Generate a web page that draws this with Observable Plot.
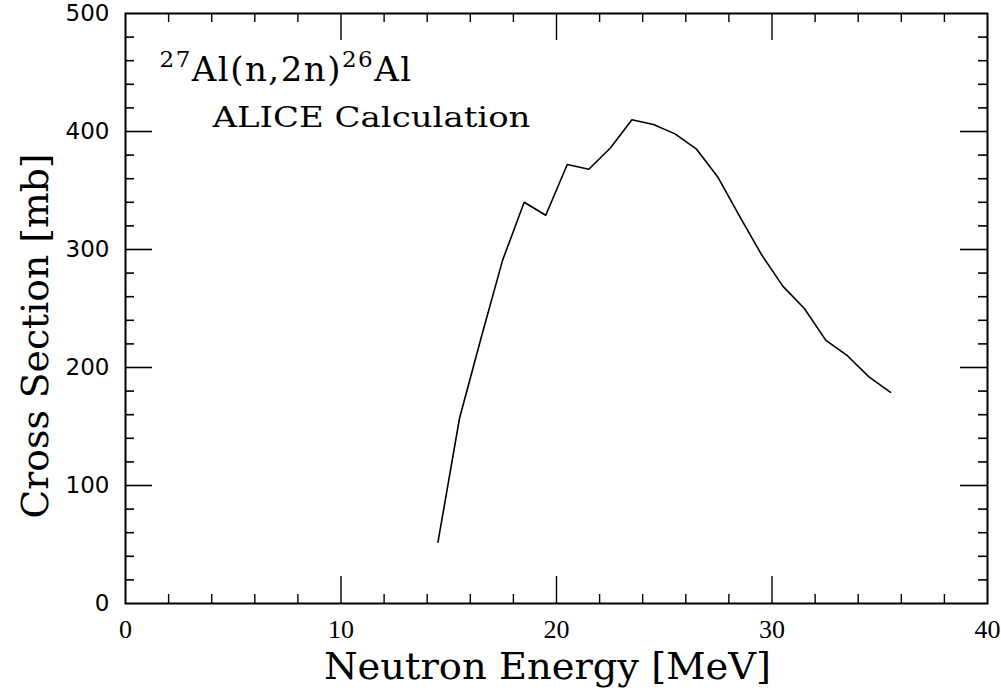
<!DOCTYPE html>
<html>
<head>
<meta charset="utf-8">
<script src="https://cdn.jsdelivr.net/npm/d3@7"></script>
<script src="https://cdn.jsdelivr.net/npm/@observablehq/plot@0.6"></script>
<style>
  html, body { margin: 0; padding: 0; background: #fff; }
</style>
</head>
<body>
<div id="chart"></div>
<script>
// Data
const energy = [14.5, 15.5, 16.5, 17.5, 18.5, 19.5, 20.5, 21.5, 22.5, 23.5, 24.5,
                25.5, 26.5, 27.5, 28.5, 29.5, 30.5, 31.5, 32.5, 33.5, 34.5, 35.5];
const crossSection = [52, 157, 225, 291, 340, 329, 372, 368, 386, 410, 406,
                      398, 385, 361, 328, 296, 269, 250, 223, 210, 192, 179];

const xTickLabels = [0, 10, 20, 30, 40];
const yTickLabels = [0, 100, 200, 300, 400, 500];
const xMajorTicks = [10, 20, 30];
const xMinorTicks = [2, 4, 6, 8, 12, 14, 16, 18, 22, 24, 26, 28, 32, 34, 36, 38];
const yMajorTicks = [100, 200, 300, 400];
const yMinorTicks = [20, 40, 60, 80, 120, 140, 160, 180, 220, 240, 260, 280,
                     320, 340, 360, 380, 420, 440, 460, 480];

const xLabel = "Neutron Energy [MeV]";
const yLabel = "Cross Section [mb]";
const title = "27Al(n,2n)26Al";
const subtitle = "ALICE Calculation";

const data = energy.map((e, i) => ({energy: e, xs: crossSection[i]}));

const W = 1001, H = 694;
const mL = 125, mR = 14, mT = 13, mB = 91;
const fw = W - mL - mR, fh = H - mT - mB;
const major = 27, minor = 9;
const serif = "DejaVu Serif";

const chart = Plot.plot({
  width: W, height: H,
  marginLeft: mL, marginRight: mR, marginTop: mT, marginBottom: mB,
  style: {background: "#fff", color: "#000"},
  x: {domain: [0, 40]},
  y: {domain: [0, 500]},
  marks: [
    // inward ticks, bottom & top
    Plot.ruleX(xMajorTicks, {x: d => d, insetTop: fh - major, stroke: "#000", strokeWidth: 1.4}),
    Plot.ruleX(xMajorTicks, {x: d => d, insetBottom: fh - major, stroke: "#000", strokeWidth: 1.4}),
    Plot.ruleX(xMinorTicks, {x: d => d, insetTop: fh - minor, stroke: "#000", strokeWidth: 1.4}),
    Plot.ruleX(xMinorTicks, {x: d => d, insetBottom: fh - minor, stroke: "#000", strokeWidth: 1.4}),
    // inward ticks, left & right
    Plot.ruleY(yMajorTicks, {y: d => d, insetRight: fw - major, stroke: "#000", strokeWidth: 1.6}),
    Plot.ruleY(yMajorTicks, {y: d => d, insetLeft: fw - major, stroke: "#000", strokeWidth: 1.6}),
    Plot.ruleY(yMinorTicks, {y: d => d, insetRight: fw - minor, stroke: "#000", strokeWidth: 1.6}),
    Plot.ruleY(yMinorTicks, {y: d => d, insetLeft: fw - minor, stroke: "#000", strokeWidth: 1.6}),
    Plot.frame({stroke: "#000", strokeWidth: 2}),
    Plot.axisX(xTickLabels, {tickSize: 0, tickPadding: 16, fontSize: 26,
      fontFamily: "Liberation Serif", label: null}),
    Plot.axisY(yTickLabels, {tickSize: 0, tickPadding: 16, fontSize: 23,
      fontFamily: "DejaVu Sans", label: null}),
    Plot.line(data, {x: "energy", y: "xs", stroke: "#000", strokeWidth: 1.6}),
    Plot.text([xLabel], {text: d => d, frameAnchor: "bottom", lineAnchor: "bottom",
      dx: -9, dy: 75, fontSize: 38, fontFamily: serif, fill: "#000"}),
    Plot.text([yLabel], {text: d => d, frameAnchor: "left", lineAnchor: "bottom",
      textAnchor: "start", rotate: -90, dx: -78, dy: 210, fontSize: 37,
      fontFamily: serif, fill: "#000"}),
    Plot.text([title], {text: d => d, frameAnchor: "top-left", textAnchor: "start",
      lineAnchor: "bottom", dx: 34, dy: 67, fontSize: 34, fontFamily: serif, fill: "#000"}),
    Plot.text([subtitle], {text: d => d, frameAnchor: "top-left", textAnchor: "start",
      lineAnchor: "bottom", dx: 87, dy: 113, fontSize: 27, fontFamily: serif, fill: "#000"})
  ]
});

// Fit text lengths and build superscripts in the title
const svg = d3.select(chart);
const fit = {};
fit[xLabel] = 447;
fit[yLabel] = 365;
fit[subtitle] = 318;
svg.selectAll("text").each(function () {
  const t = this.textContent;
  if (fit[t]) {
    d3.select(this).attr("textLength", fit[t]).attr("lengthAdjust", "spacingAndGlyphs");
  }
  if (t === title) {
    const el = d3.select(this);
    el.text(null);
    el.append("tspan").attr("font-size", 23).attr("dy", -14).text("27");
    el.append("tspan").attr("dy", 14).text("Al(n,2n)");
    el.append("tspan").attr("font-size", 23).attr("dy", -14).text("26");
    el.append("tspan").attr("dy", 14).text("Al");
    el.attr("letter-spacing", 1.5);
  }
});

document.getElementById("chart").appendChild(chart);
</script>
</body>
</html>
